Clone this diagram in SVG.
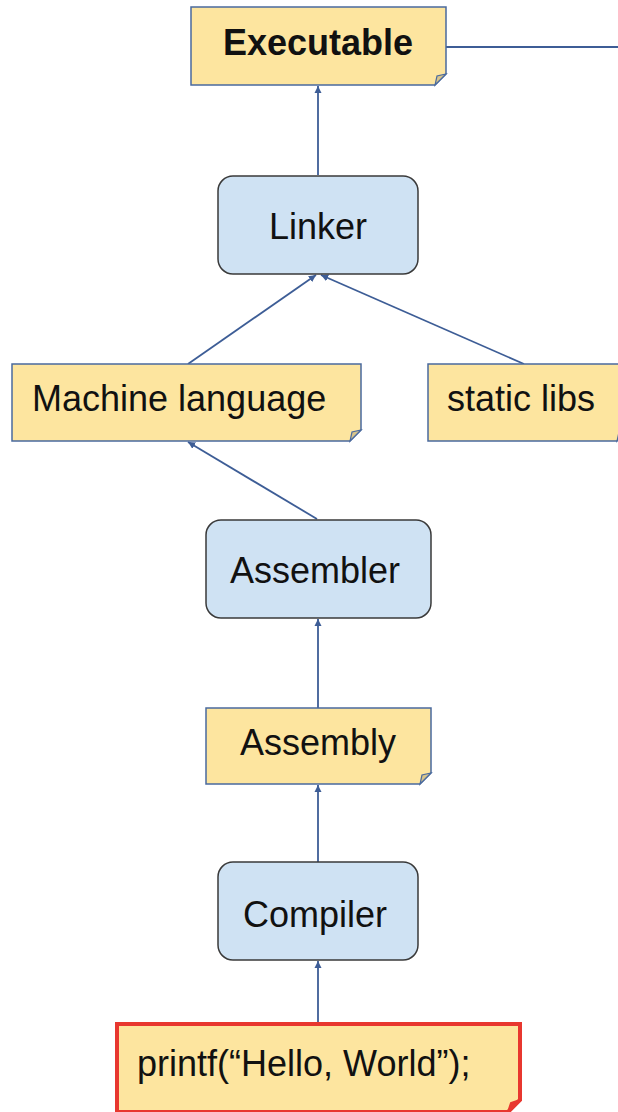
<svg xmlns="http://www.w3.org/2000/svg" width="618" height="1112" viewBox="0 0 618 1112">
<defs>
<style>
.note{fill:#fde59f;stroke:#4a6a9e;stroke-width:1.5}
.fold{fill:#d8c48a;stroke:#4a6a9e;stroke-width:1.2}
.proc{fill:#cfe2f3;stroke:#3a3a3a;stroke-width:1.5}
.t{font-family:"Liberation Sans",Arial,sans-serif;font-size:36px;fill:#111}
.c{fill:none;stroke:#3d5d96;stroke-width:1.8}
</style>
<marker id="ah" viewBox="0 0 10 10" refX="10" refY="5" markerWidth="4" markerHeight="4" orient="auto" markerUnits="strokeWidth">
<path d="M0,0 L10,5 L0,10 z" fill="#3d5d96"/>
</marker>
</defs>
<rect width="618" height="1112" fill="#fff"/>
<g id="connectors">
<line class="c" x1="446" y1="47" x2="618" y2="47"/>
<line class="c" x1="318" y1="175" x2="318" y2="86" marker-end="url(#ah)"/>
<line class="c" x1="188" y1="364" x2="316" y2="275" marker-end="url(#ah)"/>
<line class="c" x1="524" y1="364" x2="321" y2="275" marker-end="url(#ah)"/>
<line class="c" x1="317" y1="519" x2="188" y2="442" marker-end="url(#ah)"/>
<line class="c" x1="318" y1="708" x2="318" y2="619" marker-end="url(#ah)"/>
<line class="c" x1="318" y1="862" x2="318" y2="785" marker-end="url(#ah)"/>
<line class="c" x1="318" y1="1022" x2="318" y2="961" marker-end="url(#ah)"/>
</g>
<g id="executable">
<path class="note" d="M191,7 H446 V74 L435,85 H191 Z"/>
<path class="fold" d="M446,74 L435,85 L437,76 Z"/>
<text class="t" x="318" y="55" text-anchor="middle" font-weight="bold">Executable</text>
</g>
<g id="linker">
<rect class="proc" x="218" y="176" width="200" height="98" rx="15"/>
<text class="t" x="318" y="239" text-anchor="middle">Linker</text>
</g>
<g id="machine-language">
<path class="note" d="M12,364 H361 V430 L350,441 H12 Z"/>
<path class="fold" d="M361,430 L350,441 L352,432 Z"/>
<text class="t" x="32" y="411">Machine language</text>
</g>
<g id="static-libs">
<path class="note" d="M428,364 H628 V430 L617,441 H428 Z"/>
<path class="fold" d="M628,430 L617,441 L619,432 Z"/>
<text class="t" x="447" y="411">static libs</text>
</g>
<g id="assembler">
<rect class="proc" x="206" y="520" width="225" height="98" rx="15"/>
<text class="t" x="315" y="583" text-anchor="middle">Assembler</text>
</g>
<g id="assembly">
<path class="note" d="M206,708 H431 V773 L420,784 H206 Z"/>
<path class="fold" d="M431,773 L420,784 L422,775 Z"/>
<text class="t" x="318" y="755" text-anchor="middle">Assembly</text>
</g>
<g id="compiler">
<rect class="proc" x="218" y="862" width="200" height="98" rx="15"/>
<text class="t" x="315" y="927" text-anchor="middle">Compiler</text>
</g>
<g id="printf">
<path d="M117,1024 H520 V1100 L508,1112 H117 Z" fill="#fde59f" stroke="#e8372f" stroke-width="4"/>
<path d="M520,1100 L508,1112 L511,1103 Z" fill="#e8372f" stroke="#e8372f" stroke-width="2"/>
<text class="t" x="137" y="1076">printf(“Hello, World”);</text>
</g>
</svg>
